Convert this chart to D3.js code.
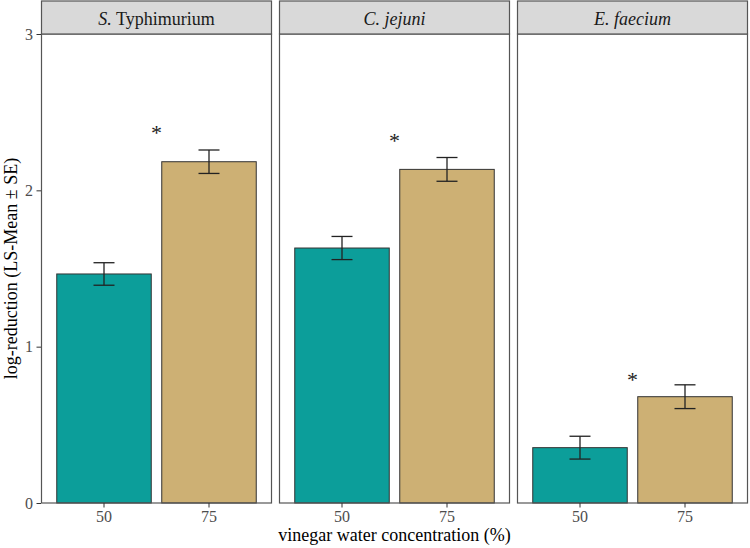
<!DOCTYPE html>
<html>
<head>
<meta charset="utf-8">
<script src="https://cdn.jsdelivr.net/npm/d3@7"></script>
<style>
  body { margin: 0; background: #fff; }
  text { font-family: "Liberation Serif", "Times New Roman", serif; }
</style>
</head>
<body>
<div id="chart"></div>
<script>
const width = 750;
const height = 548;

// data
const organisms = ["S. Typhimurium", "C. jejuni", "E. faecium"];
const concentrations = ["50", "75"];
const means50 = [1.465, 1.631, 0.354];
const means75 = [2.183, 2.134, 0.680];
const se50 = [0.072, 0.074, 0.073];
const se75 = [0.075, 0.076, 0.076];
const starY = [2.39, 2.34, 0.81];
const yTicks = [0, 1, 2, 3];

const colors = { "50": "#0c9e9a", "75": "#cdb074" };

const plotTop = 34, plotBottom = 503, stripTop = 1;

var svg = d3.select("#chart")
  .append("svg")
  .attr("width", width)
  .attr("height", height);

let panelScale = d3.scaleBand()
  .domain(organisms)
  .range([41, 748])
  .paddingInner(7 / 238)
  .paddingOuter(0);

let xScale = d3.scaleBand()
  .domain(concentrations)
  .range([0, panelScale.bandwidth()])
  .paddingInner(0.1)
  .paddingOuter(0.15);

let yScale = d3.scaleLinear()
  .domain([0, 3])
  .range([plotBottom, plotTop]);

let rows = [];
organisms.forEach((o, i) => {
  rows.push({ org: o, conc: "50", mean: means50[i], se: se50[i] });
  rows.push({ org: o, conc: "75", mean: means75[i], se: se75[i] });
});

organisms.forEach((org, i) => {
  let g = svg.append("g")
    .attr("transform", "translate(" + panelScale(org) + ",0)");
  let pw = panelScale.bandwidth();

  // panel background
  g.append("rect")
    .attr("x", 0).attr("y", plotTop)
    .attr("width", pw).attr("height", plotBottom - plotTop)
    .attr("fill", "#fff");

  let d = rows.filter((r) => r.org === org);

  g.selectAll(".bar")
    .data(d)
    .enter()
    .append("rect")
    .attr("class", "bar")
    .attr("x", (r) => xScale(r.conc))
    .attr("y", (r) => yScale(r.mean))
    .attr("width", xScale.bandwidth())
    .attr("height", (r) => yScale(0) - yScale(r.mean))
    .attr("fill", (r) => colors[r.conc])
    .attr("stroke", "#333")
    .attr("stroke-width", 1);

  // error bars
  let capW = xScale.step() * 0.2;
  let eb = g.selectAll(".err")
    .data(d)
    .enter()
    .append("g")
    .attr("class", "err")
    .attr("stroke", "#222")
    .attr("stroke-width", 1.3);
  eb.append("line")
    .attr("x1", (r) => xScale(r.conc) + xScale.bandwidth() / 2)
    .attr("x2", (r) => xScale(r.conc) + xScale.bandwidth() / 2)
    .attr("y1", (r) => yScale(r.mean - r.se))
    .attr("y2", (r) => yScale(r.mean + r.se));
  eb.append("line")
    .attr("x1", (r) => xScale(r.conc) + xScale.bandwidth() / 2 - capW / 2)
    .attr("x2", (r) => xScale(r.conc) + xScale.bandwidth() / 2 + capW / 2)
    .attr("y1", (r) => yScale(r.mean + r.se))
    .attr("y2", (r) => yScale(r.mean + r.se));
  eb.append("line")
    .attr("x1", (r) => xScale(r.conc) + xScale.bandwidth() / 2 - capW / 2)
    .attr("x2", (r) => xScale(r.conc) + xScale.bandwidth() / 2 + capW / 2)
    .attr("y1", (r) => yScale(r.mean - r.se))
    .attr("y2", (r) => yScale(r.mean - r.se));

  // significance star
  g.append("text")
    .attr("x", pw / 2)
    .attr("y", yScale(starY[i]))
    .attr("dy", "0.5em")
    .attr("text-anchor", "middle")
    .attr("font-size", 22)
    .attr("fill", "#222")
    .text("*");

  // panel border
  g.append("rect")
    .attr("x", 0.5).attr("y", plotTop)
    .attr("width", pw - 1).attr("height", plotBottom - plotTop)
    .attr("fill", "none")
    .attr("stroke", "#555")
    .attr("stroke-width", 1.2);

  // strip
  g.append("rect")
    .attr("x", 0.5).attr("y", stripTop)
    .attr("width", pw - 1).attr("height", plotTop - stripTop)
    .attr("fill", "#d9d9d9")
    .attr("stroke", "#555")
    .attr("stroke-width", 1.2);

  let st = g.append("text")
    .attr("x", pw / 2)
    .attr("y", 25)
    .attr("text-anchor", "middle")
    .attr("font-size", 18)
    .attr("fill", "#1a1a1a");
  if (i === 0) {
    let parts = org.split(" ");
    st.append("tspan").attr("font-style", "italic").text(parts[0]);
    st.append("tspan").text(" " + parts[1]);
  } else {
    st.attr("font-style", "italic").text(org);
  }

  // x axis
  let xAxis = g.append("g")
    .attr("transform", "translate(0," + plotBottom + ")")
    .call(d3.axisBottom(xScale).tickSize(4.5).tickSizeOuter(0));
  xAxis.select(".domain").remove();
  xAxis.selectAll("line").attr("stroke", "#333");
  xAxis.selectAll("text")
    .attr("font-family", "Liberation Serif, serif")
    .attr("font-size", 16)
    .attr("fill", "#4d4d4d")
    .attr("dy", "0.71em")
    .attr("y", 8);
});

// y axis
let yAxis = svg.append("g")
  .attr("transform", "translate(41,0)")
  .call(d3.axisLeft(yScale).tickValues(yTicks).tickFormat(d3.format("d")).tickSize(4.5).tickSizeOuter(0));
yAxis.select(".domain").remove();
yAxis.selectAll("line").attr("stroke", "#333");
yAxis.selectAll("text")
  .attr("font-family", "Liberation Serif, serif")
  .attr("font-size", 16)
  .attr("fill", "#4d4d4d")
  .attr("x", -8);

// axis titles
svg.append("text")
  .attr("x", (41 + 748) / 2)
  .attr("y", 541)
  .attr("text-anchor", "middle")
  .attr("font-size", 18)
  .attr("fill", "#000")
  .text("vinegar water concentration (%)");

svg.append("text")
  .attr("transform", "translate(17," + (plotTop + plotBottom) / 2 + ") rotate(-90)")
  .attr("text-anchor", "middle")
  .attr("font-size", 18)
  .attr("fill", "#000")
  .text("log-reduction (LS-Mean ± SE)");
</script>
</body>
</html>
